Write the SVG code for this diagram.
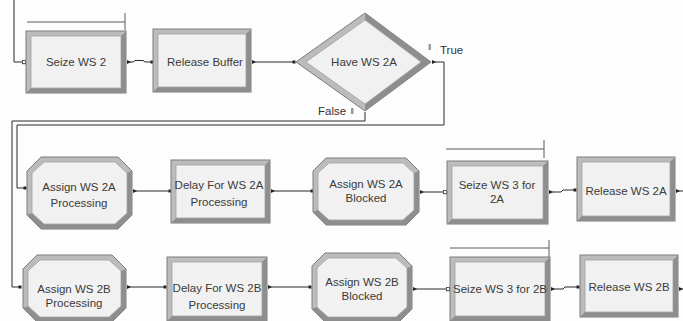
<svg xmlns="http://www.w3.org/2000/svg" width="683" height="321" viewBox="0 0 683 321">
<style>
.bg{fill:#fdfdfd}
.ol{fill:#bcbcbc;stroke:#7c7c7c;stroke-width:1}
.dk{fill:#8e8e8e}
.in{fill:#f1f1f1;stroke:#a2a2a2;stroke-width:0.8}
.t{font-family:"Liberation Sans",Arial,sans-serif;font-size:11.5px;fill:#3a3a3a;text-anchor:middle}
.lb{font-family:"Liberation Sans",Arial,sans-serif;font-size:11.5px;fill:#333}
.c{fill:none;stroke:#2a2a2a;stroke-width:1}
.res{fill:none;stroke:#5a5a5a;stroke-width:1}
.mk{fill:#9a9a9a}
</style>
<defs>
<marker id="sq" viewBox="0 0 4 4" refX="2" refY="2" markerWidth="4" markerHeight="4" markerUnits="userSpaceOnUse" orient="auto"><rect x="0.5" y="0.5" width="3" height="3" fill="#222"/></marker>
<marker id="hsq" viewBox="0 0 5 5" refX="2.5" refY="2.5" markerWidth="5" markerHeight="5" markerUnits="userSpaceOnUse" orient="auto"><rect x="0.8" y="0.8" width="3.4" height="3.4" fill="#fff" stroke="#333" stroke-width="0.9"/></marker>
<marker id="tri" viewBox="0 0 4 4" refX="0" refY="2" markerWidth="4" markerHeight="4" markerUnits="userSpaceOnUse" orient="auto"><path d="M0,0 L4,2 L0,4 Z" fill="#222"/></marker>
</defs>
<rect class="bg" x="0" y="0" width="683" height="321"/>

<g id="resources">
<path class="res" d="M27,22 H125 M125,13 V30"/>
<path class="res" d="M446,149 H544 M544,140 V158"/>
<path class="res" d="M450,248 H549 M549,240 V258"/>
</g>

<g id="connectors">
<path class="c" d="M14,0 V62 H24" marker-end="url(#hsq)"/>
<path class="c" d="M127,62 H133 L135,60.5 H143 L145,62 H152" marker-start="url(#tri)" marker-end="url(#sq)"/>
<path class="c" d="M252,62 H294" marker-start="url(#tri)" marker-end="url(#sq)"/>
<path class="c" d="M432,62 H444 V125 H17 V188 H25" marker-start="url(#tri)" marker-end="url(#sq)"/>
<path class="c" d="M365,112 V121 H12 V287 H20" marker-end="url(#sq)"/>
<path class="c" d="M133,191 H170" marker-start="url(#tri)" marker-end="url(#sq)"/>
<path class="c" d="M271,191 H312" marker-start="url(#tri)" marker-end="url(#sq)"/>
<path class="c" d="M420,192 H445" marker-start="url(#tri)" marker-end="url(#hsq)"/>
<path class="c" d="M549,192 H561 L563,190 H575" marker-start="url(#tri)" marker-end="url(#sq)"/>
<path class="c" d="M676,191 H683" marker-start="url(#tri)"/>
<path class="c" d="M127,287 H165" marker-start="url(#tri)" marker-end="url(#sq)"/>
<path class="c" d="M268,287 H310" marker-start="url(#tri)" marker-end="url(#sq)"/>
<path class="c" d="M413,289 H448" marker-start="url(#tri)" marker-end="url(#hsq)"/>
<path class="c" d="M551,289 H563 L565,287 H578" marker-start="url(#tri)" marker-end="url(#sq)"/>
<path class="c" d="M679,289 H683" marker-start="url(#tri)"/>
</g>

<g id="seize_ws2">
<rect class="ol" x="26" y="31" width="100" height="62"/>
<polygon class="dk" points="126,31 126,93 26,93 31,88 121,88 121,36"/>
<rect class="in" x="31" y="36" width="90" height="52"/>
<text class="t" x="76" y="66">Seize WS 2</text>
</g>

<g id="release_buffer">
<rect class="ol" x="153" y="29" width="98" height="63"/>
<polygon class="dk" points="251,29 251,92 153,92 158,87 246,87 246,34"/>
<rect class="in" x="158" y="34" width="88" height="53"/>
<text class="t" x="205" y="66">Release Buffer</text>
</g>

<g id="have_ws2a">
<polygon class="ol" points="296,62 365,13 431,62 365,111"/>
<polygon class="dk" points="365,13 431,62 365,111 365,104 421,62 365,20"/>
<polygon class="in" points="306,62 365,20 421,62 365,104"/>
<text class="t" x="364" y="66">Have WS 2A</text>
<rect class="mk" x="428.5" y="44" width="2.5" height="6"/>
<text class="lb" x="440" y="54">True</text>
<text class="lb" x="318" y="115">False</text>
<rect class="mk" x="351" y="108" width="2.5" height="6"/>
</g>

<g id="assign_ws2a_processing">
<polygon class="ol" points="41,157 118,157 132,171 132,215 118,229 41,229 27,215 27,171"/>
<polygon class="dk" points="132,171 132,215 118,229 41,229 27,215 32,213 44,224 115,224 127,213 127,173"/>
<polygon class="in" points="44,162 115,162 127,173 127,213 115,224 44,224 32,213 32,173"/>
<text class="t" x="79" y="191">Assign WS 2A</text>
<text class="t" x="79" y="207">Processing</text>
</g>

<g id="delay_ws2a">
<rect class="ol" x="171" y="160" width="99" height="63"/>
<polygon class="dk" points="270,160 270,223 171,223 176,218 265,218 265,165"/>
<rect class="in" x="176" y="165" width="89" height="53"/>
<text class="t" x="219" y="189">Delay For WS 2A</text>
<text class="t" x="219" y="206">Processing</text>
</g>

<g id="assign_ws2a_blocked">
<polygon class="ol" points="326,158 406,158 419,171 419,212 406,225 326,225 313,212 313,171"/>
<polygon class="dk" points="419,171 419,212 406,225 326,225 313,212 318,210 329,220 403,220 414,210 414,173"/>
<polygon class="in" points="329,163 403,163 414,173 414,210 403,220 329,220 318,210 318,173"/>
<text class="t" x="366" y="188">Assign WS 2A</text>
<text class="t" x="366" y="202">Blocked</text>
</g>

<g id="seize_ws3_2a">
<rect class="ol" x="447" y="161" width="101" height="63"/>
<polygon class="dk" points="548,161 548,224 447,224 452,219 543,219 543,166"/>
<rect class="in" x="452" y="166" width="91" height="53"/>
<text class="t" x="497" y="189">Seize WS 3 for</text>
<text class="t" x="497" y="203">2A</text>
</g>

<g id="release_ws2a">
<rect class="ol" x="577" y="157" width="98" height="64"/>
<polygon class="dk" points="675,157 675,221 577,221 582,216 670,216 670,162"/>
<rect class="in" x="582" y="162" width="88" height="54"/>
<text class="t" x="626" y="195">Release WS 2A</text>
</g>

<g id="assign_ws2b_processing">
<polygon class="ol" points="37,255 112,255 126,269 126,308 112,322 37,322 23,308 23,269"/>
<polygon class="dk" points="126,269 126,308 112,322 37,322 23,308 28,306 40,317 109,317 121,306 121,271"/>
<polygon class="in" points="40,260 109,260 121,271 121,306 109,317 40,317 28,306 28,271"/>
<text class="t" x="74" y="293">Assign WS 2B</text>
<text class="t" x="74" y="307">Processing</text>
</g>

<g id="delay_ws2b">
<rect class="ol" x="167" y="257" width="100" height="64"/>
<polygon class="dk" points="267,257 267,321 167,321 172,316 262,316 262,262"/>
<rect class="in" x="172" y="262" width="90" height="54"/>
<text class="t" x="217" y="292">Delay For WS 2B</text>
<text class="t" x="217" y="309">Processing</text>
</g>

<g id="assign_ws2b_blocked">
<polygon class="ol" points="325,253 399,253 412,266 412,309 399,322 325,322 312,309 312,266"/>
<polygon class="dk" points="412,266 412,309 399,322 325,322 312,309 317,307 328,317 396,317 407,307 407,268"/>
<polygon class="in" points="328,258 396,258 407,268 407,307 396,317 328,317 317,307 317,268"/>
<text class="t" x="362" y="286">Assign WS 2B</text>
<text class="t" x="362" y="300">Blocked</text>
</g>

<g id="seize_ws3_2b">
<rect class="ol" x="450" y="257" width="100" height="64"/>
<polygon class="dk" points="550,257 550,321 450,321 455,316 545,316 545,262"/>
<rect class="in" x="455" y="262" width="90" height="54"/>
<text class="t" x="500" y="293">Seize WS 3 for 2B</text>
</g>

<g id="release_ws2b">
<rect class="ol" x="580" y="255" width="98" height="62"/>
<polygon class="dk" points="678,255 678,317 580,317 585,312 673,312 673,260"/>
<rect class="in" x="585" y="260" width="88" height="52"/>
<text class="t" x="629" y="291">Release WS 2B</text>
</g>
</svg>
